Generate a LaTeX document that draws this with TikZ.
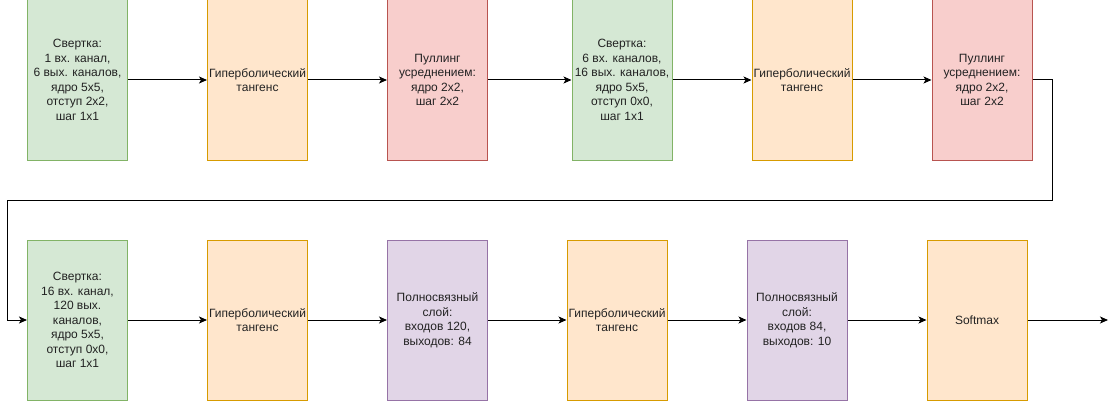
\documentclass[tikz,border=0pt]{standalone}
\usepackage{fontspec}
\setmainfont{Liberation Sans}
\usetikzlibrary{arrows.meta}
\definecolor{convfill}{HTML}{D5E8D4}
\definecolor{convline}{HTML}{82B366}
\definecolor{actfill}{HTML}{FFE6CC}
\definecolor{actline}{HTML}{D79B00}
\definecolor{poolfill}{HTML}{F8CECC}
\definecolor{poolline}{HTML}{B85450}
\definecolor{fcfill}{HTML}{E1D5E7}
\definecolor{fcline}{HTML}{9673A6}
\definecolor{txt}{HTML}{222222}
\tikzset{
  layer/.style={rectangle, minimum width=100pt, minimum height=160pt,
    inner sep=1pt, align=center, line width=1pt, text=txt,
    font=\fontsize{12}{14.5}\selectfont},
  convbox/.style={layer, fill=convfill, draw=convline},
  actbox/.style={layer, fill=actfill, draw=actline},
  poolbox/.style={layer, fill=poolfill, draw=poolline},
  fcbox/.style={layer, fill=fcfill, draw=fcline},
  flow/.style={line width=1pt, -{Stealth[length=8pt,width=7pt,inset=2pt]}}
}
\begin{document}
\begin{tikzpicture}[x=1pt,y=-1pt]
\useasboundingbox (0,0) rectangle (1116,401);
% first row
\node[convbox] (c1) at (77.5,80) {Свертка:\\1 вх. канал,\\6 вых. каналов,\\ядро 5х5,\\отступ 2х2,\\шаг 1х1};
\node[actbox]  (t1) at (257.5,80) {Гиперболический\\тангенс};
\node[poolbox] (p1) at (437.5,80) {Пуллинг\\усреднением:\\ядро 2х2,\\шаг 2х2};
\node[convbox] (c2) at (622,80) {Свертка:\\6 вх. каналов,\\16 вых. каналов,\\ядро 5х5,\\отступ 0х0,\\шаг 1х1};
\node[actbox]  (t2) at (802,80) {Гиперболический\\тангенс};
\node[poolbox] (p2) at (982,80) {Пуллинг\\усреднением:\\ядро 2х2,\\шаг 2х2};
% second row
\node[convbox] (c3) at (77.5,320) {Свертка:\\16 вх. канал,\\120 вых.\\каналов,\\ядро 5х5,\\отступ 0х0,\\шаг 1х1};
\node[actbox]  (t3) at (257.5,320) {Гиперболический\\тангенс};
\node[fcbox]   (f1) at (437.5,320) {Полносвязный\\слой:\\входов 120,\\выходов: 84};
\node[actbox]  (t4) at (617,320) {Гиперболический\\тангенс};
\node[fcbox]   (f2) at (797,320) {Полносвязный\\слой:\\входов 84,\\выходов: 10};
\node[actbox]  (sm) at (977,320) {Softmax};
% route from the end of the first row to the start of the second
\coordinate (r1) at (1052,80);
\coordinate (r2) at (1052,200);
\coordinate (r3) at (7.5,200);
\coordinate (r4) at (7.5,320);
\coordinate (out) at (1108,320);
% connectors
\draw[flow] (c1) -- (t1);
\draw[flow] (t1) -- (p1);
\draw[flow] (p1) -- (c2);
\draw[flow] (c2) -- (t2);
\draw[flow] (t2) -- (p2);
\draw[flow] (p2.east) -- (r1) -- (r2) -- (r3) -- (r4) -- (c3.west);
\draw[flow] (c3) -- (t3);
\draw[flow] (t3) -- (f1);
\draw[flow] (f1) -- (t4);
\draw[flow] (t4) -- (f2);
\draw[flow] (f2) -- (sm);
\draw[flow] (sm.east) -- (out);
\end{tikzpicture}
\end{document}
